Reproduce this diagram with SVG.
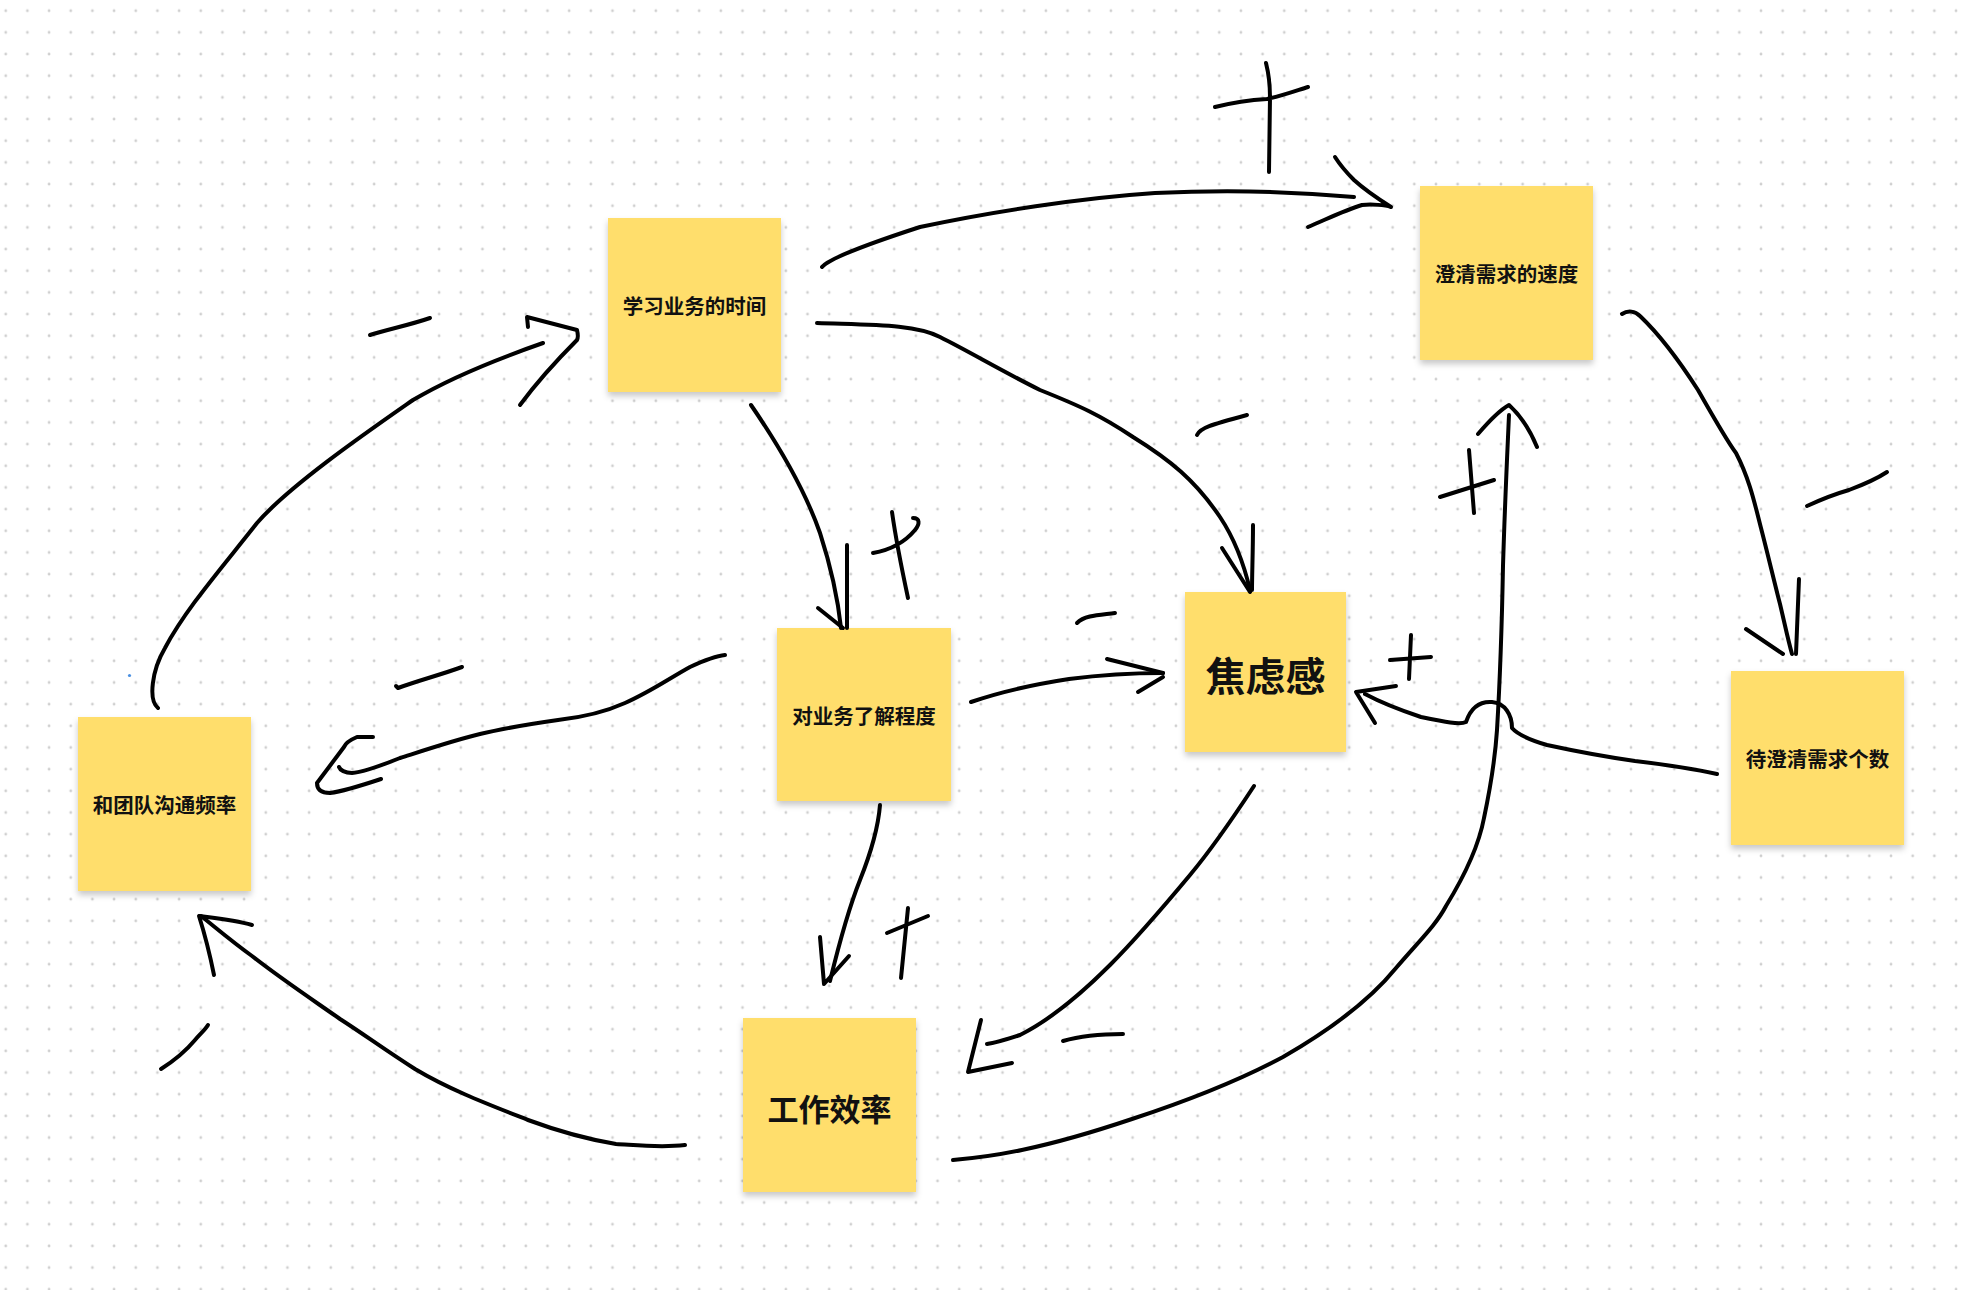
<svg xmlns="http://www.w3.org/2000/svg" width="1972" height="1290" viewBox="0 0 1972 1290">
<style>
.note{fill:#FFDE6C;}
.lbl{font-family:"Noto Sans CJK SC","Noto Sans",sans-serif;font-weight:bold;fill:#111;text-anchor:middle;dominant-baseline:central;}
.s{font-size:20.5px;}
.ink{fill:none;stroke:#000;stroke-width:4;stroke-linecap:round;stroke-linejoin:round;}
</style>
<defs>
<pattern id="dots" patternUnits="userSpaceOnUse" x="-5.1" y="-0.1" width="21.67" height="21.67">
<circle cx="10.83" cy="10.83" r="1.4" fill="#cfcfcf"/>
</pattern>
<filter id="sh" x="-10%" y="-10%" width="120%" height="125%">
<feDropShadow dx="0" dy="4" stdDeviation="3" flood-color="#000" flood-opacity="0.22"/>
</filter>
</defs>
<rect width="1972" height="1290" fill="#fff"/>
<rect width="1972" height="1290" fill="url(#dots)"/>

<g id="node-learn-time"><rect class="note" filter="url(#sh)" x="608" y="218" width="173" height="174"/><text class="lbl s" x="694.5" y="305">学习业务的时间</text></g>
<g id="node-clarify-speed"><rect class="note" filter="url(#sh)" x="1420" y="186" width="173" height="174"/><text class="lbl s" x="1506.5" y="273">澄清需求的速度</text></g>
<g id="node-understanding"><rect class="note" filter="url(#sh)" x="777" y="628" width="174" height="173"/><text class="lbl s" x="864" y="715">对业务了解程度</text></g>
<g id="node-anxiety"><rect class="note" filter="url(#sh)" x="1185" y="592" width="161" height="160"/><text class="lbl" style="font-size:40px" x="1265.5" y="674">焦虑感</text></g>
<g id="node-team-comm"><rect class="note" filter="url(#sh)" x="78" y="717" width="173" height="174"/><text class="lbl s" x="164.5" y="804">和团队沟通频率</text></g>
<g id="node-pending"><rect class="note" filter="url(#sh)" x="1731" y="671" width="173" height="174"/><text class="lbl s" x="1817.5" y="758">待澄清需求个数</text></g>
<g id="node-efficiency"><rect class="note" filter="url(#sh)" x="743" y="1018" width="173" height="174"/><text class="lbl" style="font-size:31px" x="829.5" y="1107">工作效率</text></g>

<g id="connectors" class="ink">
<path d="M822,267 C 830,257 880,240 920,227 C 990,212 1080,198 1155,193 C 1240,189 1300,192 1354,197"/>
<path d="M1335,157 C 1342,168 1350,176 1354,180 C 1365,190 1380,200 1391,207 M1308,227 C 1325,220 1345,210 1362,205 C 1372,204 1385,205 1391,207"/>
<path d="M1266,63 C 1269,75 1270,90 1270,97 L1269,172 M1215,107 C 1235,102 1250,100 1267,99 C 1285,95 1298,90 1308,87"/>

<path d="M817,323 C 870,325 915,324 940,337 C 970,352 1000,370 1040,390 C 1080,406 1100,415 1133,437 C 1170,460 1195,480 1220,517 C 1232,535 1243,560 1250,590"/>
<path d="M1222,548 L1250,592 M1253,525 C 1253,550 1252,575 1252,590"/>
<path d="M1197,435 C 1200,428 1210,425 1247,415"/>

<path d="M751,405 C 775,440 805,490 820,533 C 832,570 838,600 841,628"/>
<path d="M847,545 L847,628 M818,608 L843,628"/>
<path d="M892,512 C 896,540 902,570 908,598 M873,553 C 890,550 905,542 915,530 C 920,524 920,518 913,518"/>

<path d="M158,708 C 148,700 152,670 165,648 C 185,610 220,570 257,523 C 290,485 370,430 413,400 C 450,378 500,358 543,343"/>
<path d="M528,327 L527,317 L577,330 C 578,334 578,338 577,340 C 565,352 540,378 520,405"/>
<path d="M370,335 C 385,330 410,325 430,318"/>

<path d="M725,655 C 715,656 705,660 690,667 C 670,678 650,692 625,703 C 605,712 585,717 558,720 C 530,724 505,728 480,734 C 455,740 425,750 400,758 C 385,764 365,772 352,773 C 345,773 340,770 339,767"/>
<path d="M373,737 L357,737 C 350,740 345,744 344,747 L317,783 C 317,790 322,793 330,793 C 345,791 360,786 381,779"/>
<path d="M462,667 C 440,675 420,680 398,688 L396,686"/>

<path d="M971,702 C 1000,692 1030,685 1069,679 C 1100,675 1135,673 1163,673"/>
<path d="M1107,659 L1163,673 M1138,692 L1163,677"/>
<path d="M1077,623 C 1085,615 1100,615 1115,613"/>

<path d="M880,805 C 878,830 870,855 860,880 C 850,905 840,940 830,981"/>
<path d="M820,937 L824,984 L849,956"/>
<path d="M908,908 L901,978 M887,933 L928,916"/>

<path d="M1254,786 C 1235,815 1215,845 1190,875 C 1165,905 1140,935 1110,965 C 1080,995 1050,1020 1020,1035 C 1005,1040 995,1043 987,1044"/>
<path d="M981,1020 L968,1072 L1012,1063"/>
<path d="M1063,1041 C 1080,1036 1100,1034 1123,1034"/>

<path d="M685,1145 C 660,1148 635,1145 616,1144 C 580,1138 555,1130 528,1120 C 490,1105 450,1090 415,1069 C 385,1050 365,1035 340,1019 C 310,998 280,978 252,956 C 230,940 215,927 201,916"/>
<path d="M214,975 C 210,955 205,935 199,916 C 215,918 235,920 252,925"/>
<path d="M161,1069 C 172,1062 185,1052 195,1040 C 200,1034 205,1030 208,1025"/>

<path d="M953,1160 C 990,1157 1040,1150 1132,1119 C 1190,1100 1240,1080 1283,1057 C 1330,1030 1370,1000 1396,968 C 1420,940 1436,925 1446,906 C 1462,880 1478,850 1484,818 C 1492,780 1495,760 1497,730 C 1500,680 1502,620 1503,566 C 1505,500 1507,460 1509,415"/>
<path d="M1478,434 C 1490,420 1500,410 1509,405 C 1520,415 1530,430 1537,447"/>
<path d="M1469,450 L1474,513 M1440,497 L1494,480"/>

<path d="M1717,774 C 1690,768 1660,764 1635,761 C 1600,756 1570,750 1547,745 C 1530,740 1518,735 1512,728 C 1512,715 1505,703 1492,702 C 1478,701 1470,710 1466,722 C 1460,725 1445,722 1421,717 C 1400,710 1380,702 1365,694"/>
<path d="M1375,723 L1356,692 L1396,686"/>
<path d="M1411,635 L1409,679 M1390,660 L1431,657"/>

<path d="M1622,314 C 1628,310 1635,311 1640,316 C 1660,335 1680,362 1698,390 C 1715,420 1730,445 1736,453 C 1750,480 1755,505 1761,528 C 1768,555 1775,585 1780,604 C 1785,625 1788,640 1792,654"/>
<path d="M1746,629 L1783,654 M1799,579 L1796,654"/>
<path d="M1807,506 C 1820,500 1835,494 1849,490 C 1865,484 1878,478 1887,472"/>
</g>
<circle cx="129.5" cy="675.5" r="1.6" fill="#4a90e2"/>
</svg>
